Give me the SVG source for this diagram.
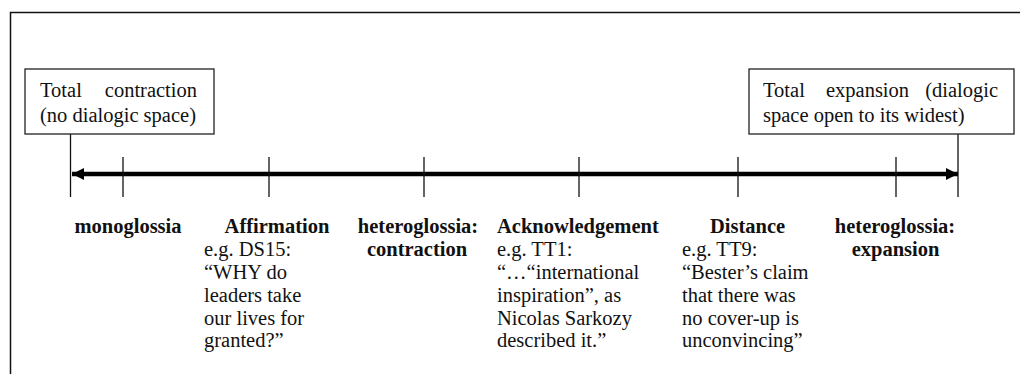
<svg xmlns="http://www.w3.org/2000/svg" width="1020" height="374" viewBox="0 0 1020 374">
<style>
  text { font-family: 'Liberation Serif', Tinos, 'Times New Roman', Times, 'Noto Serif', 'DejaVu Serif', serif; font-size: 20.5px; fill: #111; }
  .b { font-weight: bold; }
  .m { text-anchor: middle; }
  .e { text-anchor: end; }
  .box { fill: #fff; stroke: #222; stroke-width: 1.3; }
  .tick { stroke: #111; stroke-width: 1.3; }
</style>
<defs>
  <marker id="ah" viewBox="0 0 12 12" refX="12" refY="6" markerWidth="12" markerHeight="12" markerUnits="userSpaceOnUse" orient="auto-start-reverse">
    <path d="M0,0 L12,6 L0,12 Z" fill="#000"/>
  </marker>
</defs>
<rect width="1020" height="374" fill="#fff"/>
<g id="frame">
  <path d="M10.5,374 L10.5,12.5 L1020,12.5" fill="none" stroke="#111" stroke-width="1.5"/>
</g>
<g id="connectors">
  <line x1="72" y1="174" x2="958" y2="174" stroke="#000" stroke-width="4.5" marker-start="url(#ah)" marker-end="url(#ah)"/>
  <line class="tick" x1="70.5" y1="134" x2="70.5" y2="197"/>
  <line class="tick" x1="958" y1="134" x2="958" y2="197"/>
  <line class="tick" x1="123" y1="157" x2="123" y2="197"/>
  <line class="tick" x1="269" y1="157" x2="269" y2="197"/>
  <line class="tick" x1="424" y1="157" x2="424" y2="197"/>
  <line class="tick" x1="579" y1="157" x2="579" y2="197"/>
  <line class="tick" x1="738" y1="157" x2="738" y2="197"/>
  <line class="tick" x1="896" y1="157" x2="896" y2="197"/>
</g>
<g font-family="Liberation Serif, serif">
<g id="total-contraction">
  <rect class="box" x="25" y="69" width="189" height="65"/>
  <text x="40" y="97">Total</text>
  <text class="e" x="197" y="97">contraction</text>
  <text x="40" y="122">(no dialogic space)</text>
</g>
<g id="total-expansion">
  <rect class="box" x="749" y="69" width="265" height="65"/>
  <text x="763" y="97">Total</text>
  <text class="m" x="867.5" y="97">expansion</text>
  <text class="e" x="998" y="97">(dialogic</text>
  <text x="763" y="122">space open to its widest)</text>
</g>
<g id="monoglossia">
  <text class="b m" x="128" y="233">monoglossia</text>
</g>
<g id="affirmation">
  <text class="b m" x="277" y="233">Affirmation</text>
  <text x="204" y="256">e.g. DS15:</text>
  <text x="204" y="279">“WHY do</text>
  <text x="204" y="302">leaders take</text>
  <text x="204" y="325">our lives for</text>
  <text x="204" y="347">granted?”</text>
</g>
<g id="heteroglossia-contraction">
  <text class="b m" x="418" y="233">heteroglossia:</text>
  <text class="b m" x="417" y="256">contraction</text>
</g>
<g id="acknowledgement">
  <text class="b" x="497" y="233">Acknowledgement</text>
  <text x="497" y="256">e.g. TT1:</text>
  <text x="497" y="279">“…“international</text>
  <text x="497" y="302">inspiration”, as</text>
  <text x="497" y="325">Nicolas Sarkozy</text>
  <text x="497" y="347">described it.”</text>
</g>
<g id="distance">
  <text class="b m" x="747.5" y="233">Distance</text>
  <text x="682" y="256">e.g. TT9:</text>
  <text x="682" y="279">“Bester’s claim</text>
  <text x="682" y="302">that there was</text>
  <text x="682" y="325">no cover-up is</text>
  <text x="682" y="347">unconvincing”</text>
</g>
<g id="heteroglossia-expansion">
  <text class="b m" x="895" y="233">heteroglossia:</text>
  <text class="b m" x="895.5" y="256">expansion</text>
</g>
</g>
</svg>
